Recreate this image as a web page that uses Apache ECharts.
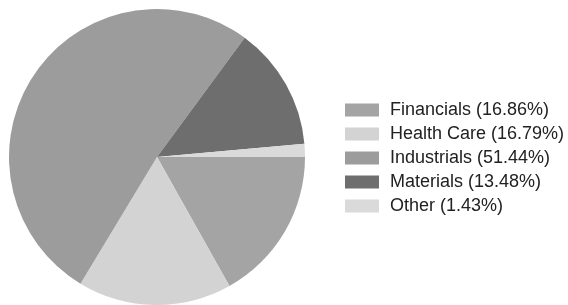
<!DOCTYPE html>
<html>
<head>
<meta charset="utf-8">
<script src="https://cdn.jsdelivr.net/npm/echarts@6/dist/echarts.min.js"></script>
<style>
  html, body { margin: 0; padding: 0; background: #fff; }
  #chart { width: 568px; height: 305px; }
</style>
</head>
<body>
<div id="chart"></div>
<script>
// sector weights (percent)
const sectors = ['Financials', 'Health Care', 'Industrials', 'Materials', 'Other']
const shares = [16.86, 16.79, 51.44, 13.48, 1.43]
const sectorColors = ['#a4a4a4', '#d3d3d3', '#9c9c9c', '#6e6e6e', '#dadada']

const chart = echarts.init(document.getElementById('chart'))

const seriesData = sectors.map((name, i) => ({
  name: name,
  value: shares[i],
  itemStyle: { color: sectorColors[i] }
}))

chart.setOption({
  animation: false,
  legend: {
    orient: 'vertical',
    left: 345,
    top: 101,
    padding: 0,
    icon: 'rect',
    itemWidth: 34,
    itemHeight: 13,
    itemGap: 6,
    selectedMode: false,
    textStyle: {
      fontFamily: 'Liberation Sans',
      fontSize: 18,
      lineHeight: 18,
      color: '#222',
      padding: [0, 0, 0, 6]
    },
    formatter: function (name) {
      const i = sectors.indexOf(name)
      return name + ' (' + shares[i].toFixed(2) + '%)'
    },
    data: sectors
  },
  series: [{
    type: 'pie',
    center: [157, 157],
    radius: 148,
    startAngle: 0,
    clockwise: true,
    silent: true,
    label: { show: false },
    labelLine: { show: false },
    data: seriesData
  }]
})
</script>
</body>
</html>
